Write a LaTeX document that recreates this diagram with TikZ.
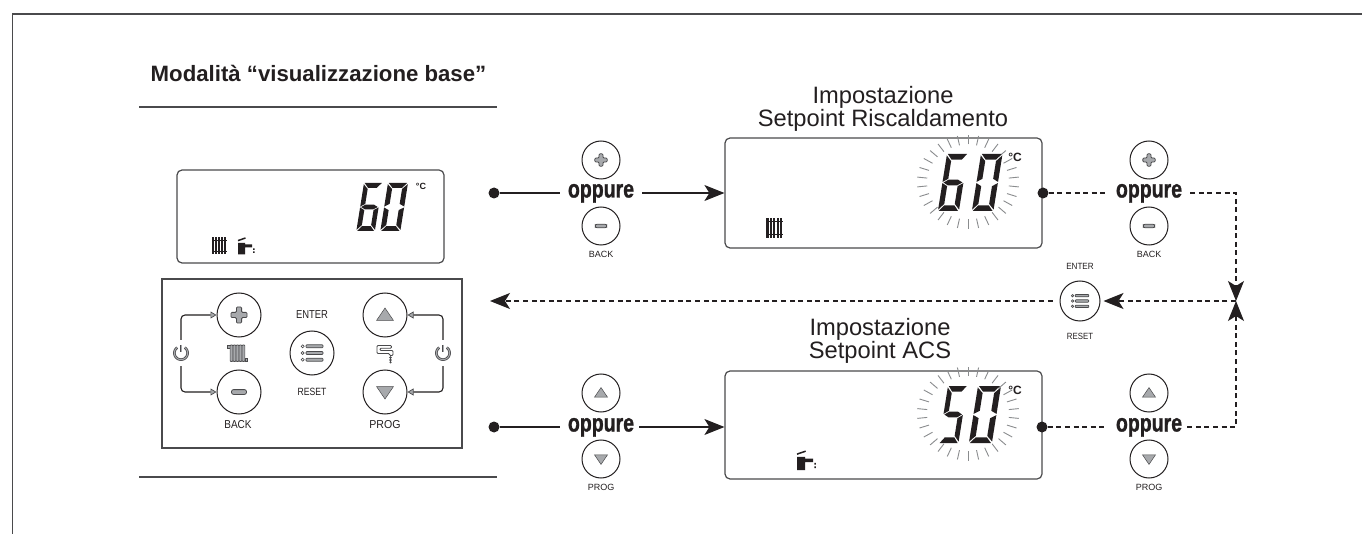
\documentclass[tikz,border=0pt]{standalone}
\usepackage{fontspec}
\setmainfont{Liberation Sans}
\newfontfamily\oppf{Liberation Sans}[BoldFeatures={FakeBold=1.3}]
\usetikzlibrary{arrows.meta}
\definecolor{ink}{HTML}{231F20}
\definecolor{edge}{HTML}{4A4A4C}
\definecolor{mid}{HTML}{A7A9AC}
\definecolor{ray}{HTML}{8A8C8E}
\newcommand\opp{\scalebox{0.78}[1]{\fontsize{25}{25}\oppf\bfseries oppure}}
\newcommand\nar[2]{\scalebox{#1}[1]{#2}}
% seven segments in a 10 x 20 box (y downwards)
\newcommand\sega{\fill[ink] (0.4,0)--(9.6,0)--(7.4,2)--(2.6,2)--cycle;}
\newcommand\segd{\fill[ink] (0.4,20)--(9.6,20)--(7.4,18)--(2.6,18)--cycle;}
\newcommand\segf{\fill[ink] (0,0.5)--(2.5,2.5)--(2.5,8.7)--(0,9.8)--cycle;}
\newcommand\sege{\fill[ink] (0,10.2)--(2.5,11.3)--(2.5,17.5)--(0,19.5)--cycle;}
\newcommand\segb{\fill[ink] (10,0.5)--(7.5,2.5)--(7.5,8.7)--(10,9.8)--cycle;}
\newcommand\segc{\fill[ink] (10,10.2)--(7.5,11.3)--(7.5,17.5)--(10,19.5)--cycle;}
\newcommand\segg{\fill[ink] (0.5,10)--(2.8,9)--(7.2,9)--(9.5,10)--(7.2,11)--(2.8,11)--cycle;}
\newcommand\dsix{\sega\segf\segg\sege\segd\segc}
\newcommand\dzero{\sega\segb\segc\segd\sege\segf}
\newcommand\dfive{\sega\segf\segg\segc\segd}
% #1 x (top-left), #2 y (top), #3 width, #4 height, #5 digit
\newcommand\digit[5]{\begin{scope}[shift={(#1,#2)},xslant=0.16,xscale=#3/10,yscale=#4/20]#5\end{scope}}
% #1 cx #2 cy
\newcommand\rays[2]{\foreach \a in {0,12,...,348}{\draw[ray,line width=.9pt] ({#1+41*cos(\a+6)},{#2+37.5*sin(\a+6)}) -- ({#1+51*cos(\a+6)},{#2+47*sin(\a+6)});}}
% button icons: #1 node, #2 scale
\newcommand\iplus[2]{\begin{scope}[shift={(#1.center)},scale=#2]\draw[edge,fill=mid,line width=.8pt,rounded corners=1pt] (-2.6,-8)--(2.6,-8)--(2.6,-2.6)--(8,-2.6)--(8,2.6)--(2.6,2.6)--(2.6,8)--(-2.6,8)--(-2.6,2.6)--(-8,2.6)--(-8,-2.6)--(-2.6,-2.6)--cycle;\end{scope}}
\newcommand\iminus[2]{\begin{scope}[shift={(#1.center)},scale=#2]\draw[edge,fill=mid,line width=.8pt,rounded corners=2pt] (-7.5,-2.4) rectangle (7.5,2.4);\end{scope}}
\newcommand\iup[2]{\begin{scope}[shift={(#1.center)},scale=#2]\draw[edge,fill=mid,line width=.5pt] (0,-7)--(8.5,5.5)--(-8.5,5.5)--cycle;\end{scope}}
\newcommand\idown[2]{\begin{scope}[shift={(#1.center)},scale=#2]\draw[edge,fill=mid,line width=.5pt] (0,7)--(8.5,-5.5)--(-8.5,-5.5)--cycle;\end{scope}}
\newcommand\imenu[2]{\begin{scope}[shift={(#1.center)},scale=#2]
 \foreach \yy in {-6.7,0,6.7}{\draw[edge,fill=mid,line width=.7pt,rounded corners=.8pt] (-6,\yy-1.5) rectangle (11,\yy+1.5);\draw[edge,fill=white,line width=.7pt] (-9.3,\yy) circle (1.5);}
 \end{scope}}
\newcommand\ipower[1]{\begin{scope}[shift={(#1.center)}]
 \draw[edge,line width=2.6pt] plot[domain=35:325,samples=30,smooth] ({6.6*sin(\x)},{-6.6*cos(\x)});
 \draw[mid,line width=1pt] plot[domain=35:325,samples=30,smooth] ({6.6*sin(\x)},{-6.6*cos(\x)});
 \draw[edge,line width=2.6pt] (0,-8.2)--(0,-1);
 \draw[mid,line width=1pt] (0,-7.8)--(0,-1.4);
 \end{scope}}
% LCD radiator: #1 x left, #2 y top, #3 scale
\newcommand\lrad[3]{\begin{scope}[shift={(#1,#2)},scale=#3]
 \foreach \xx in {1.2,4.2,7.2,10.2,13.2}{\fill[ink] (\xx-1,0) rectangle (\xx+1,17);}
 \draw[ink,line width=.8pt] (0,3)--(14.6,3) (0,14)--(14.6,14);
 \end{scope}}
% LCD faucet: #1 x left, #2 y top, #3 scale
\newcommand\lfau[3]{\begin{scope}[shift={(#1,#2)},scale=#3]
 \fill[ink] (0,6)--(7,6)--(7,7.5)--(14,7.5)--(14,10.5)--(7,10.5)--(7,17.5)--(0,17.5)--cycle;
 \draw[ink,line width=1.5pt] (0,3.6)--(7.5,1);
 \fill[ink] (15,11.3) rectangle (16.5,12.8) (15,14.3) rectangle (16.5,15.8);
 \end{scope}}
\tikzset{
 lcdbox/.style={draw=edge,line width=1.2pt,rounded corners=5pt,inner sep=0pt,fill=white},
 btn/.style={circle,draw=ink,line width=1pt,inner sep=0pt,minimum size=44pt,fill=white},
 sbtn/.style={circle,draw=ink,line width=1pt,inner sep=0pt,minimum size=38pt,fill=white},
 oppnode/.style={inner sep=0pt,text height=14pt,text depth=5pt,text=ink},
 dot/.style={circle,fill=ink,inner sep=0pt,minimum size=11pt},
 ttl/.style={align=center,font=\fontsize{23.7}{23.5}\selectfont,text=ink,inner sep=0pt},
 lab/.style={font=\fontsize{11.5}{12}\selectfont,text=ink,inner sep=0pt},
 slab/.style={font=\fontsize{9}{9}\selectfont,text=ink,inner sep=0pt},
 cdeg/.style={font=\fontsize{12}{12}\selectfont\bfseries,text=ink,inner sep=0pt},
 solidl/.style={draw=ink,line width=1.1pt},
 dashl/.style={draw=ink,line width=1.1pt,dash pattern=on 5pt off 3.6pt},
 tipb/.style={-{Stealth[length=20pt,width=16pt,inset=5pt,color=ink]}},
 tipp/.style={-{Triangle[length=6pt,width=7pt,fill=mid,color=edge,line width=.7pt]}},
 rule/.style={draw=edge,line width=1.1pt},
 pwr/.style={circle,inner sep=0pt,minimum size=26pt},
 ico/.style={inner sep=0pt,minimum size=18pt}
}
\begin{document}
\begin{tikzpicture}[x=1pt,y=-1pt]
\useasboundingbox (0,0) rectangle (1362,534);
\fill[white] (0,0) rectangle (1362,534);
% frame
\coordinate (fa) at (12.5,534);\coordinate (fb) at (12.5,14);\coordinate (fc) at (1362,14);
\draw[rule,line width=1.4pt] (fa)--(fb)--(fc);
% heading
\node[inner sep=0pt,text=ink,font=\fontsize{22.2}{23}\selectfont\bfseries] (head) at (318.5,73) {Modalità “visualizzazione base”};
\coordinate (r1a) at (139,107);\coordinate (r1b) at (497,107);
\coordinate (r2a) at (139,477);\coordinate (r2b) at (497,477);
\draw[rule] (r1a)--(r1b);
\draw[rule] (r2a)--(r2b);
% LCD boxes
\node[lcdbox,minimum width=267pt,minimum height=93pt] (lcd1) at (310.5,216.5) {};
\node[lcdbox,minimum width=317pt,minimum height=110pt] (lcd2) at (883.5,193) {};
\node[lcdbox,minimum width=317pt,minimum height=108pt] (lcd3) at (883.5,425) {};
% LCD 1 contents
\digit{364}{183}{18.5}{48}{\dsix}
\digit{388}{183}{20}{48}{\dzero}
\node[cdeg,font=\fontsize{9}{9}\selectfont\bfseries] (deg1) at (421,186) {°C};
\lrad{212}{237}{1}
\lfau{238}{237}{1}
% LCD 2
\rays{968}{182}
\digit{947}{154}{21}{57}{\dsix}
\digit{981}{154}{21.5}{57}{\dzero}
\node[cdeg] (deg2) at (1015,157) {°C};
\lrad{766}{218}{1.15}
% LCD 3
\rays{968}{413.5}
\digit{948}{386}{19.5}{57}{\dfive}
\digit{978}{386}{23}{57}{\dzero}
\node[cdeg] (deg3) at (1015,390) {°C};
\lfau{797}{450}{1.15}
% titles
\node[ttl] (t1) at (883,109) {Impostazione\\Setpoint Riscaldamento};
\node[ttl] (t2) at (880,341) {Impostazione\\Setpoint ACS};
% panel
\node[draw=edge,line width=1.3pt,inner sep=0pt,minimum width=300pt,minimum height=169pt] (panel) at (312,363.5) {};
\node[btn] (pplus) at (239,315) {};
\node[btn] (pminus) at (239,392) {};
\node[btn] (pup) at (385,315) {};
\node[btn] (pdown) at (385,392) {};
\node[btn] (pmenu) at (312,353) {};
\iplus{pplus}{1}\iminus{pminus}{1}\iup{pup}{1}\idown{pdown}{1}\imenu{pmenu}{1}
\node[lab] (lenter) at (312,315) {\nar{.82}{ENTER}};
\node[lab,font=\fontsize{10.5}{11}\selectfont] (lreset) at (312,392) {\nar{.82}{RESET}};
\node[lab] (lback) at (238,425) {\nar{.87}{BACK}};
\node[lab] (lprog) at (385,425) {\nar{.92}{PROG}};
\node[pwr] (pw1) at (181,353) {};
\node[pwr] (pw2) at (443,353) {};
\ipower{pw1}\ipower{pw2}
\draw[solidl,tipp,rounded corners=4pt] (pw1.north) |- (pplus.west);
\draw[solidl,tipp,rounded corners=4pt] (pw1.south) |- (pminus.west);
\draw[solidl,tipp,rounded corners=4pt] (pw2.north) |- (pup.east);
\draw[solidl,tipp,rounded corners=4pt] (pw2.south) |- (pdown.east);
% panel radiator icon
\node[ico] (irad) at (237.5,353.5) {};
\begin{scope}[shift={(irad.center)}]
 \draw[edge,fill=mid,line width=.6pt] (-10,-8.5) rectangle (-3,-5.5);
 \foreach \xx in {-6,-3,0,3,6}{\draw[edge,fill=mid,line width=.6pt,rounded corners=.8pt] (\xx-1.4,-8.5) rectangle (\xx+1.4,8);}
 \draw[edge,fill=mid,line width=.6pt] (7.4,4.5) rectangle (10,8);
\end{scope}
% panel tap icon
\node[ico] (itap) at (385,353.5) {};
\begin{scope}[shift={(itap.center)}]
 \draw[edge,fill=white,line width=.9pt,rounded corners=1pt] (-8,-8)--(6.5,-8)--(6.5,-5.2)--(-5,-5.2)--(-5,-3)--(8,-3)--(8,2)--(4.5,2)--(4.5,0)--(-8,0)--cycle;
 \fill[edge] (5.5,4) circle (1.3) (5.5,6.5) circle (1.3) (5.5,8.8) circle (1.2);
\end{scope}
% row 1 left
\node[dot] (d1) at (494,193) {};
\node[oppnode,anchor=center] (o1) at (601,193) {\opp};
\node[sbtn] (b1p) at (601,160) {};
\node[sbtn] (b1m) at (601,226) {};
\iplus{b1p}{.77}\iminus{b1m}{.77}
\node[slab] (l1) at (601,254) {BACK};
\draw[solidl] (d1)--([xshift=-8pt]o1.west);
\draw[solidl,tipb] ([xshift=8pt]o1.east)--(lcd2.west);
% row 1 right
\node[dot] (d2) at (1043,193) {};
\node[oppnode] (o2) at (1149,193) {\opp};
\node[sbtn] (b2p) at (1149,160) {};
\node[sbtn] (b2m) at (1149,226) {};
\iplus{b2p}{.77}\iminus{b2m}{.77}
\node[slab] (l2) at (1149,254) {BACK};
\coordinate (cr1) at (1236,193);
\coordinate (cm) at (1236,301);
\coordinate (cr2) at (1236,427);
\draw[dashl] (d2)--([xshift=-8pt]o2.west);
\draw[dashl,tipb] ([xshift=8pt]o2.east)--(cr1)--(cm);
% menu button on the return line
\node[sbtn,minimum size=40pt] (b5) at (1080,301) {};
\imenu{b5}{.8}
\node[slab] (l5a) at (1080,266) {\nar{.9}{ENTER}};
\node[slab] (l5b) at (1080,336) {\nar{.87}{RESET}};
\coordinate (cret) at (490,301);
\draw[dashl,tipb] (cm)--([xshift=3pt]b5.east);
\draw[dashl,tipb] (b5.west)++(-7pt,0)--(cret);
% row 2 left
\node[dot] (d3) at (494,427) {};
\node[oppnode] (o3) at (601,427) {\opp};
\node[sbtn] (b3u) at (601,393) {};
\node[sbtn] (b3d) at (601,459) {};
\iup{b3u}{.77}\idown{b3d}{.77}
\node[slab] (l3) at (601,487) {PROG};
\draw[solidl] (d3)--([xshift=-8pt]o3.west);
\draw[solidl,tipb] ([xshift=5pt]o3.east)--(lcd3.west |- o3.east);
% row 2 right
\node[dot] (d4) at (1042,427) {};
\node[oppnode] (o4) at (1149,427) {\opp};
\node[sbtn] (b4u) at (1149,393) {};
\node[sbtn] (b4d) at (1149,459) {};
\iup{b4u}{.77}\idown{b4d}{.77}
\node[slab] (l4) at (1149,487) {PROG};
\draw[dashl] (d4)--([xshift=-8pt]o4.west);
\draw[dashl,tipb] ([xshift=5pt]o4.east)--(cr2)--(cm);
\end{tikzpicture}
\end{document}
